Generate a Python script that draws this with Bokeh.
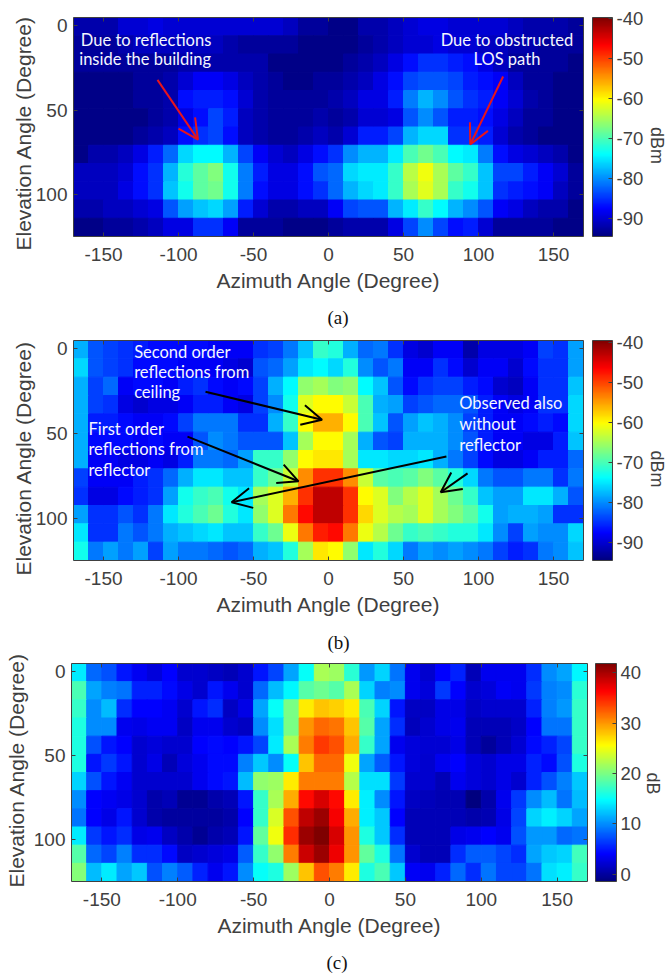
import numpy as np
from bokeh.plotting import figure
from bokeh.layouts import column
from bokeh.models import (Arrow, ColorBar, ColumnDataSource, FixedTicker, Label, LinearAxis,
                          LinearColorMapper, OpenHead, Range1d, Title)
from bokeh.embed import file_html
from bokeh.resources import INLINE

azimuth_ticks = [-150, -100, -50, 0, 50, 100, 150]
elevation_ticks = [0, 50, 100]
dbm_ticks = [-90, -80, -70, -60, -50, -40]
db_ticks = [0, 10, 20, 30, 40]

# rows: elevation top to bottom; columns: azimuth -170..170 in 10 degree steps
power_a = [
 [-92,-92,-92,-90,-90,-89,-90,-90,-90,-90,-90,-90,-90,-90,-91,-93,-93, -94,-94,-92,-92,-91,-90,-89,-89,-90,-90,-90,-90,-91,-92,-92,-92,-93],
 [-93,-93,-93,-92,-91,-91,-91,-91,-91,-91,-92,-93,-93,-93,-93,-94,-94, -94,-94,-93,-92,-91,-90,-90,-89,-90,-90,-91,-91,-92,-92,-93,-93,-93],
 [-93,-93,-93,-93,-93,-93,-93,-92,-92,-92,-92,-92,-92,-94,-94,-94,-94, -94,-93,-92,-91,-89,-87,-85,-85,-86,-87,-89,-91,-93,-93,-93,-93,-94],
 [-94,-94,-94,-94,-93,-93,-92,-90,-88,-88,-89,-91,-92,-93,-94,-94,-93, -93,-92,-91,-89,-87,-84,-83,-83,-84,-86,-87,-88,-91,-93,-93,-94,-94],
 [-94,-94,-94,-94,-93,-93,-92,-87,-86,-86,-87,-90,-92,-93,-93,-93,-93, -92,-91,-89,-89,-86,-81,-78,-80,-83,-85,-86,-88,-90,-92,-93,-94,-94],
 [-94,-94,-94,-94,-94,-93,-92,-89,-87,-84,-86,-91,-92,-93,-93,-93,-92, -93,-92,-90,-90,-89,-83,-80,-83,-86,-86,-87,-89,-91,-93,-93,-94,-94],
 [-94,-94,-94,-94,-93,-92,-91,-87,-85,-84,-87,-91,-92,-93,-93,-92,-91, -92,-90,-86,-86,-84,-78,-76,-76,-85,-85,-86,-90,-92,-93,-94,-94,-94],
 [-94,-92,-92,-91,-89,-86,-82,-76,-74,-74,-78,-84,-88,-90,-91,-89,-87, -85,-80,-78,-78,-75,-70,-68,-70,-74,-75,-81,-87,-89,-90,-91,-92,-94],
 [-91,-91,-91,-90,-87,-85,-78,-72,-69,-67,-73,-81,-86,-89,-89,-87,-83, -82,-76,-75,-75,-71,-64,-61,-65,-69,-71,-77,-84,-84,-86,-88,-90,-93],
 [-91,-91,-91,-89,-87,-85,-77,-73,-69,-68,-73,-81,-87,-89,-89,-87,-85, -82,-78,-76,-75,-71,-65,-62,-65,-71,-73,-77,-85,-86,-87,-88,-91,-93],
 [-92,-92,-91,-91,-90,-89,-83,-79,-77,-76,-79,-86,-90,-92,-92,-91,-91, -88,-84,-83,-83,-78,-75,-71,-74,-78,-80,-83,-88,-89,-91,-92,-92,-94],
 [-94,-94,-93,-93,-92,-91,-89,-89,-85,-85,-88,-93,-93,-93,-94,-94,-94, -93,-92,-92,-92,-89,-84,-80,-84,-87,-86,-90,-93,-93,-93,-93,-94,-94],
]
power_b = [
 [-78,-83,-84,-85,-86,-87,-87,-87,-87,-88,-88,-88,-85,-84,-81,-77,-71, -72,-78,-82,-81,-85,-89,-90,-88,-88,-92,-89,-89,-89,-88,-84,-85,-79],
 [-76,-83,-84,-85,-87,-87,-87,-88,-88,-88,-89,-90,-83,-82,-79,-75,-74, -76,-72,-80,-83,-81,-88,-88,-85,-87,-90,-88,-88,-90,-87,-85,-85,-79],
 [-78,-84,-82,-88,-87,-87,-88,-86,-85,-87,-88,-87,-84,-78,-74,-66,-65, -67,-66,-74,-77,-83,-87,-85,-84,-84,-86,-87,-90,-91,-88,-85,-85,-77],
 [-78,-84,-85,-89,-90,-89,-89,-88,-86,-86,-88,-89,-84,-80,-73,-62,-60, -60,-63,-70,-78,-79,-84,-83,-82,-82,-83,-86,-88,-89,-88,-85,-85,-76],
 [-78,-86,-86,-87,-88,-88,-87,-84,-81,-81,-81,-85,-85,-78,-71,-60,-56, -56,-60,-70,-77,-83,-79,-77,-78,-80,-84,-86,-88,-88,-87,-86,-87,-76],
 [-78,-87,-87,-87,-88,-87,-88,-88,-83,-80,-81,-83,-83,-83,-77,-65,-60, -60,-65,-78,-83,-84,-78,-78,-78,-80,-83,-86,-88,-88,-89,-89,-86,-77],
 [-78,-88,-88,-89,-89,-88,-89,-86,-81,-81,-82,-79,-71,-71,-66,-60,-59, -59,-65,-75,-75,-76,-76,-75,-78,-81,-84,-87,-89,-89,-88,-86,-86,-82],
 [-84,-88,-88,-88,-86,-85,-82,-78,-75,-75,-77,-77,-71,-68,-63,-54,-49, -49,-54,-63,-69,-70,-69,-67,-69,-72,-76,-81,-83,-83,-81,-81,-85,-81],
 [-85,-89,-89,-87,-86,-85,-79,-73,-71,-70,-73,-75,-65,-62,-56,-49,-43, -43,-49,-60,-62,-67,-64,-62,-65,-68,-71,-77,-79,-79,-75,-75,-78,-83],
 [-79,-85,-85,-83,-85,-81,-75,-72,-70,-68,-72,-75,-66,-62,-53,-47,-43, -43,-49,-58,-62,-64,-65,-62,-65,-67,-69,-73,-79,-78,-78,-79,-85,-85],
 [-75,-85,-85,-81,-83,-81,-78,-77,-76,-75,-77,-77,-71,-68,-61,-53,-48, -47,-53,-61,-64,-68,-71,-70,-71,-72,-72,-75,-80,-84,-79,-80,-80,-76],
 [-73,-81,-79,-81,-79,-84,-79,-81,-81,-82,-83,-82,-78,-77,-72,-65,-59, -60,-66,-75,-72,-76,-81,-79,-80,-79,-80,-81,-84,-86,-85,-81,-80,-77],
]
gain_c = [
 [14,8.5,7.5,5,3.5,2.5,4,2,2,1.5,1,2,5,7,11,15,22, 21.5,16.5,10.5,13,9,3.4,2,4,5.5,1,3.4,3.4,3.4,6,10,11,14.5],
 [18,11,9.5,9,5.5,5.5,4.5,3,2,5,3.4,2,8.5,12,14.5,18.5,19.5, 18.5,22,13,9.5,10,3.4,2.5,6.5,4,2,2.5,3.8,3.4,6.5,9.5,10,16.5],
 [17,10,12,6,4,4,3.5,2,5,6,1.5,3,11,15,20,26.3,28, 27.5,26.3,18,13,5,1.5,1.5,3,3,1.5,2,2,2,5.5,9.5,10.5,17],
 [16,10,10,3.4,3,3.5,3.5,1.5,3.4,3.4,2,1.5,10,13.5,20,30,32, 31.5,28,18.5,11,6,1.2,2,3,3.4,1,1,1,1.8,4,9,9,17],
 [16,7.5,5,4,2,2.5,2,2,4,4.5,4,5,7,14,22,31,34, 33,29,17,11,3.4,2.5,2.2,2.2,3,1,-0.2,1,2.2,4.5,5.5,7,17],
 [16,5,6.5,5,2,3,1,2.5,3.4,4.5,4.5,9.5,12.5,10,15,28,32, 32,25,11,8,5,2.5,2,3.4,4,2.5,2,3,3,5.5,4.5,7.5,16],
 [13,7.5,5,3.5,2,2,2,2,3.4,4.5,5,12,21,21.5,26.3,31,31, 31,22.5,13.5,13.5,6.5,2,2,1,3.4,2.5,2,3,2,5.5,7.5,9.5,12.5],
 [10,4,3.5,3,2,0.5,1,-0.5,-0.5,0.5,1,5,17,22,29,36,38, 36,26.3,14.2,10,5,1.5,1.2,0.8,0.8,-1.4,0.5,3.4,6.5,10,12,9,12],
 [9,4,3,5,2,0.5,0,0,0,0,0.5,4,17,24,33,39,40.5, 36.6,29,14.2,12.5,4,1,1,1,1,0.5,0.8,3,7,13,14.2,13,11],
 [14,6.5,5,6,3,3.4,1.5,0.5,-0.5,0.5,1,5,19,25,34.5,40.5,41.8, 38,30,16,12.5,6,1,1,1,3,3.4,4,3.4,7.5,10.5,10.5,8.5,9],
 [18.5,8.5,7,9.5,6,6,4.5,1.5,2,2.5,3,8,17,21,31,38.5,40.5, 37,30,19,16,9,2,1,1,6,8,8,7,6,11,12.5,13,17.5],
 [20.5,12,14,11,12.5,7.5,9.5,8,5.5,3.4,5,10,15,16,21.5,28,33, 31,26.3,16,18,12.5,3.8,3.4,5.5,8.5,6,9,7,7,9,13.5,14.2,17],
]

AX = "#404040"
RIGHT_TOTAL = 140


def jet(n=256):
    out = []
    for i in range(n):
        t = i / (n - 1)
        r = np.clip(min(4 * t - 1.5, -4 * t + 4.5), 0, 1)
        g = np.clip(min(4 * t - 0.5, -4 * t + 3.5), 0, 1)
        b = np.clip(min(4 * t + 0.5, -4 * t + 2.5), 0, 1)
        out.append("#%02x%02x%02x" % (int(r * 255), int(g * 255), int(b * 255)))
    return out


PALETTE = jet()


def plain_labels(ticks):
    return {t: str(t) for t in ticks}


def panel(values, low, high, bar_ticks, page_top, next_top, frame_left, frame_top, frame_w, frame_h,
          gap, bar_w, bar_label, unit_standoff, left_shift, ylabel_standoff, ylabel_offset,
          caption, caption_standoff, caption_offset, bottom_total=104):
    xr = Range1d(-170, 170)
    yr = Range1d(125, -5)
    height = frame_top - page_top + frame_h + bottom_total
    width = frame_left + left_shift + frame_w + RIGHT_TOTAL
    m_bottom = next_top - (page_top + height)
    p = figure(width=width, height=height, x_range=xr, y_range=yr,
               output_backend="svg", toolbar_location=None,
               margin=(0, 0, m_bottom, -left_shift),
               min_border_left=frame_left + left_shift, min_border_top=frame_top - page_top,
               min_border_right=RIGHT_TOTAL, min_border_bottom=bottom_total,
               border_fill_color=None)
    p.grid.visible = False
    p.outline_line_color = None
    mapper = LinearColorMapper(palette=PALETTE, low=low, high=high)
    arr = np.array(values, dtype=float)
    nrow, ncol = arr.shape
    xs, ys = np.meshgrid(-165 + 10.0 * np.arange(ncol), -5 + (np.arange(nrow) + 0.5) * 130.0 / nrow)
    src = ColumnDataSource(dict(x=xs.ravel(), y=ys.ravel(), v=arr.ravel()))
    t = {"field": "v", "transform": mapper}
    p.rect("x", "y", width=10, height=130.0 / nrow, source=src, fill_color=t, line_color=t, line_width=1)

    def style(ax, ticks):
        ax.ticker = FixedTicker(ticks=ticks)
        ax.major_tick_in = 4
        ax.major_tick_out = 0
        ax.minor_tick_line_color = None
        ax.axis_line_color = AX
        ax.major_tick_line_color = AX
        ax.major_label_text_color = AX
        ax.major_label_text_font = "Liberation Sans"
        ax.major_label_text_font_size = "19px"
        ax.major_label_text_font_style = "normal"
        ax.major_label_overrides = plain_labels(ticks)

    xa = p.xaxis[0]
    style(xa, azimuth_ticks)
    xa.major_label_standoff = 11
    xa.axis_label = "Azimuth Angle (Degree)"
    xa.axis_label_text_font = "Liberation Sans"
    xa.axis_label_text_font_size = "21px"
    xa.axis_label_text_font_style = "normal"
    xa.axis_label_text_color = AX
    xa.axis_label_standoff = 5
    ya = p.yaxis[0]
    style(ya, elevation_ticks)
    ya.major_label_standoff = 6

    for side, rng in (("above", azimuth_ticks), ("right", elevation_ticks)):
        ax = LinearAxis()
        style(ax, rng)
        ax.major_label_overrides = {tick: "" for tick in rng}
        ax.major_label_text_font_size = "1px"
        ax.major_label_standoff = 0
        p.add_layout(ax, side)

    cb = ColorBar(color_mapper=mapper, width=bar_w, height=frame_h, padding=0, margin=0,
                  ticker=FixedTicker(ticks=bar_ticks), major_tick_in=4, major_tick_line_color=AX,
                  minor_tick_line_color=None, bar_line_color=AX, label_standoff=4,
                  major_label_overrides=plain_labels(bar_ticks),
                  major_label_text_font="Liberation Sans", major_label_text_font_size="18.5px",
                  major_label_text_color=AX, location=(gap, 0))
    p.add_layout(cb, "right")

    unit_axis = LinearAxis(ticker=FixedTicker(ticks=[]), axis_line_color=None, major_tick_line_color=None,
                           minor_tick_line_color=None, major_label_text_font_size="1px", major_label_standoff=0,
                           major_tick_in=0, major_tick_out=0,
                           axis_label=bar_label, axis_label_standoff=unit_standoff, axis_label_orientation=-np.pi / 2,
                           axis_label_text_font="Liberation Sans", axis_label_text_font_size="18px",
                           axis_label_text_font_style="normal", axis_label_text_color=AX)
    p.add_layout(unit_axis, "right")

    p.add_layout(Title(text="Elevation Angle (Degree)", align="left", offset=ylabel_offset, standoff=ylabel_standoff,
                       text_font="Liberation Sans", text_font_size="21px", text_font_style="normal",
                       text_color=AX), "left")
    p.add_layout(Title(text=caption, align="left", offset=caption_offset, standoff=caption_standoff,
                       text_font="Liberation Serif", text_font_size="19px", text_font_style="normal",
                       text_color="#111111"), "below")

    sx = frame_w / 340.0
    sy = frame_h / 130.0

    def text(px, py, s, size, color=AX, font="Liberation Sans", align="center"):
        p.add_layout(Label(x=-170 + (px - frame_left) / sx, y=-5 + (py - frame_top) / sy, text=s,
                           text_font=font, text_font_size=size, text_color=color, text_align=align,
                           text_baseline="middle"))

    return p, text


def arrow(p, x0, y0, x1, y1, color):
    p.add_layout(Arrow(end=OpenHead(size=20, line_color=color, line_width=2), x_start=x0, y_start=y0,
                       x_end=x1, y_end=y1, line_color=color, line_width=2))


ANN = dict(size="16.5px", color="#f4f6ff", font="Lato")

p1, t1 = panel(power_a, -94.5, -39.8, dbm_ticks, 0, 330, 70, 17, 513, 219, 9, 20, "dBm", 10, 0, -5, -14, "(a)", 21, 254)
for px, py, s in [(143, 39, "Due to reflections"), (142, 58, "inside the building"),
                  (506, 39, "Due to obstructed"), (506, 58, "LOS path")]:
    t1(px, py, s, **ANN)
arrow(p1, -114, 32, -87, 67.5, "#e8141c")
arrow(p1, 116.4, 30, 94.5, 70.4, "#e8141c")

p2, t2 = panel(power_b, -94.5, -39.5, dbm_ticks, 330, 652, 70, 340, 513, 220, 9, 20, "dBm", 10, 0, -5, -15, "(b)", 22, 254)
for px, py, s in [(131, 351, "Second order"), (131, 371, "reflections from"), (131, 391, "ceiling"),
                  (85, 428, "First order"), (85, 448, "reflections from"), (85, 469, "reflector"),
                  (458, 402, "Observed also"), (458, 423, "without"), (458, 444, "reflector")]:
    t2(px, py, s, align="left", **ANN)
arrow(p2, -82, 25.3, -4.3, 41.8, "black")
arrow(p2, -94, 51.8, -20, 78.2, "black")
arrow(p2, 78.6, 63.5, -64.6, 90.6, "black")
arrow(p2, 92.7, 73.5, 74.8, 84.7, "black")

p3, t3 = panel(gain_c, -1.4, 41.8, db_ticks, 652, 975, 71, 663, 518, 218, 8, 21, "dB", 8, 2, 6, -6, "(c)", 21, 255)

page = column(p1, p2, p3, spacing=0)
open("out.html", "w").write(file_html(page, INLINE))
